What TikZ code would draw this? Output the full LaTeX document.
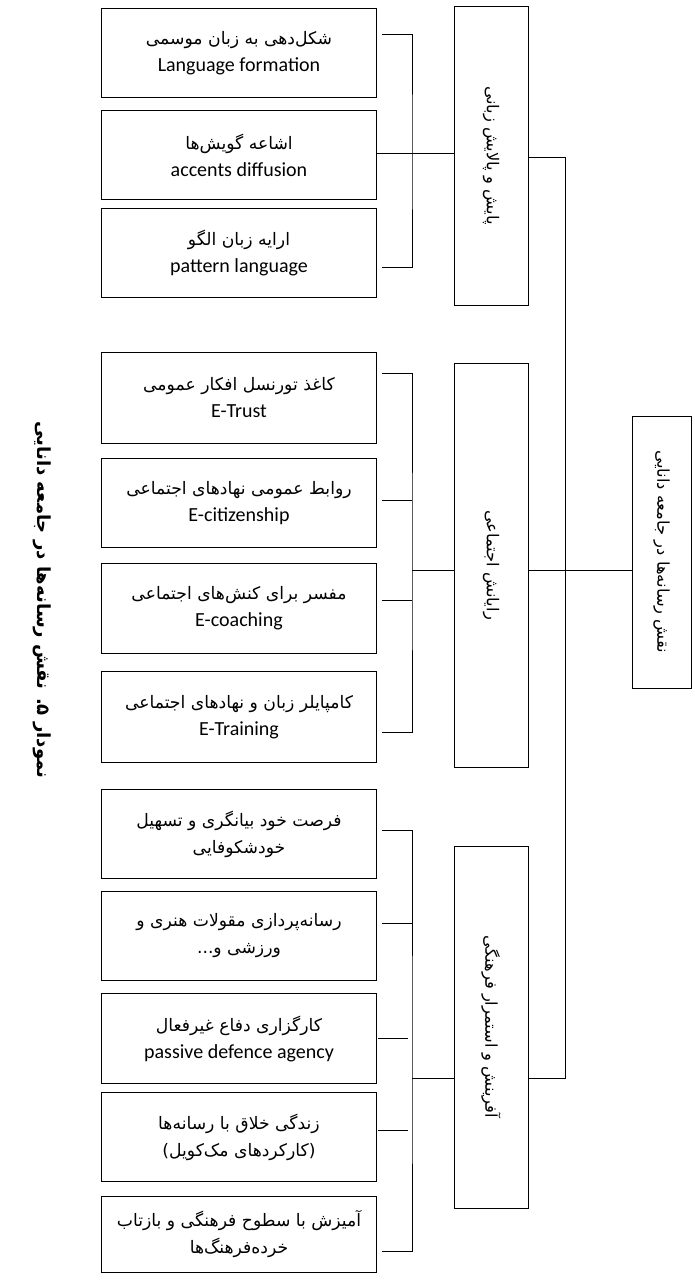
\documentclass[tikz,border=0pt]{standalone}
\usepackage{fontspec}
\setmainfont{Carlito}
\newfontfamily\fafont[Script=Arabic,Scale=0.86]{DejaVu Sans}
\TeXXeTstate=1
\newcommand{\fa}[1]{{\fafont\beginR #1\endR}}

\begin{document}
\begin{tikzpicture}[x=1pt, y=-1pt,
    leafbox/.style={draw, line width=1pt, anchor=north west, minimum width=275pt, minimum height=89pt, align=center, inner sep=0pt, font=\fontsize{20}{27}\selectfont},
    groupbox/.style={draw, line width=1pt, minimum width=74pt, font=\fontsize{19}{24}\selectfont},
    grouptext/.style={rotate=-90, font=\fontsize{19}{24}\selectfont\fafont},
    link/.style={line width=1pt}]
    \useasboundingbox (0,0) rectangle (695,1280);

    % leaves
    \node[leafbox] (l11) at (101,8) {\fa{شکل‌دهی به زبان موسمی}\\Language formation};
    \node[leafbox] (l12) at (101,110) {\fa{اشاعه گویش‌ها}\\accents diffusion};
    \node[leafbox] (l13) at (101,208) {\fa{ارایه زبان الگو}\\pattern language};

    \node[leafbox, minimum height=91pt] (l21) at (101,352) {\fa{کاغذ تورنسل افکار عمومی}\\E-Trust};
    \node[leafbox] (l22) at (101,458) {\fa{روابط عمومی نهادهای اجتماعی}\\E-citizenship};
    \node[leafbox, minimum height=90pt] (l23) at (101,563) {\fa{مفسر برای کنش‌های اجتماعی}\\E-coaching};
    \node[leafbox, minimum height=91pt] (l24) at (101,671) {\fa{کامپایلر زبان و نهادهای اجتماعی}\\E-Training};

    \node[leafbox] (l31) at (101,789) {\fa{فرصت خود بیانگری و تسهیل}\\\fa{خودشکوفایی}};
    \node[leafbox] (l32) at (101,891) {\fa{رسانه‌پردازی مقولات هنری و}\\\fa{ورزشی و...}};
    \node[leafbox, minimum height=90pt] (l33) at (101,993) {\fa{کارگزاری دفاع غیرفعال}\\passive defence agency};
    \node[leafbox] (l34) at (101,1092) {\fa{زندگی خلاق با رسانه‌ها}\\\fa{(کارکردهای مک‌کویل)}};
    \node[leafbox, minimum height=76pt] (l35) at (101,1196) {\fa{آمیزش با سطوح فرهنگی و بازتاب}\\\fa{خرده‌فرهنگ‌ها}};

    % groups
    \node[groupbox, minimum height=299pt] (m1) at (491,155.5) {};
    \node[grouptext] (m1text) at (m1.center) {\beginR پایش و پالایش زبانی\endR};
    \node[groupbox, minimum height=404pt] (m2) at (491,565) {};
    \node[grouptext] (m2text) at (m2.center) {\beginR رایانش اجتماعی\endR};
    \node[groupbox, minimum height=362pt] (m3) at (491,1027) {};
    \node[grouptext] (m3text) at (m3.center) {\beginR آفرینش و استمرار فرهنگی\endR};

    % root
    \node[groupbox, minimum width=59pt, minimum height=272pt] (root) at (661.5,552) {};
    \node[grouptext] (roottext) at (root.center) {\beginR نقش رسانه‌ها در جامعه دانایی\endR};

    % caption
    \node[rotate=-90, font=\fontsize{21}{24}\selectfont\bfseries\fafont] (cap) at (42,600) {\beginR نمودار ۵. نقش رسانه‌ها در جامعه دانایی\endR};

    % brackets
    \coordinate (s11) at (382,34);
    \coordinate (s13) at (382,267);
    \coordinate (j1) at (412,153);
    \draw[link] (s11) -| (j1) |- (s13);
    \draw[link] (l12.east |- j1) -- (m1.west |- j1);

    \coordinate (s21) at (382,373);
    \coordinate (s22) at (382,500);
    \coordinate (s23) at (382,600);
    \coordinate (s24) at (382,732);
    \coordinate (j2) at (412,570);
    \draw[link] (s21) -| (j2) |- (s24);
    \draw[link] (s22) -- (s22 -| j2);
    \draw[link] (s23) -- (s23 -| j2);
    \draw[link] (j2) -- (m2.west |- j2);

    \coordinate (s31) at (382,830);
    \coordinate (s32) at (382,923);
    \coordinate (s33) at (378,1038);
    \coordinate (s34) at (378,1130);
    \coordinate (s35) at (382,1251);
    \coordinate (j3) at (412,1078);
    \draw[link] (s31) -| (j3) |- (s35);
    \draw[link] (s32) -- (s32 -| j3);
    \draw[link] (s33) -- ([xshift=-4pt]s33 -| j3);
    \draw[link] (s34) -- ([xshift=-4pt]s34 -| j3);
    \draw[link] (j3) -- (m3.west |- j3);

    % trunk
    \coordinate (r1) at (565,157);
    \coordinate (r2) at (565,570);
    \coordinate (r3) at (565,1078);
    \draw[link] (m1.east |- r1) -- (r1) -- (r3) -- (m3.east |- r3);
    \draw[link] (m2.east |- r2) -- (root.west |- r2);
\end{tikzpicture}
\end{document}
